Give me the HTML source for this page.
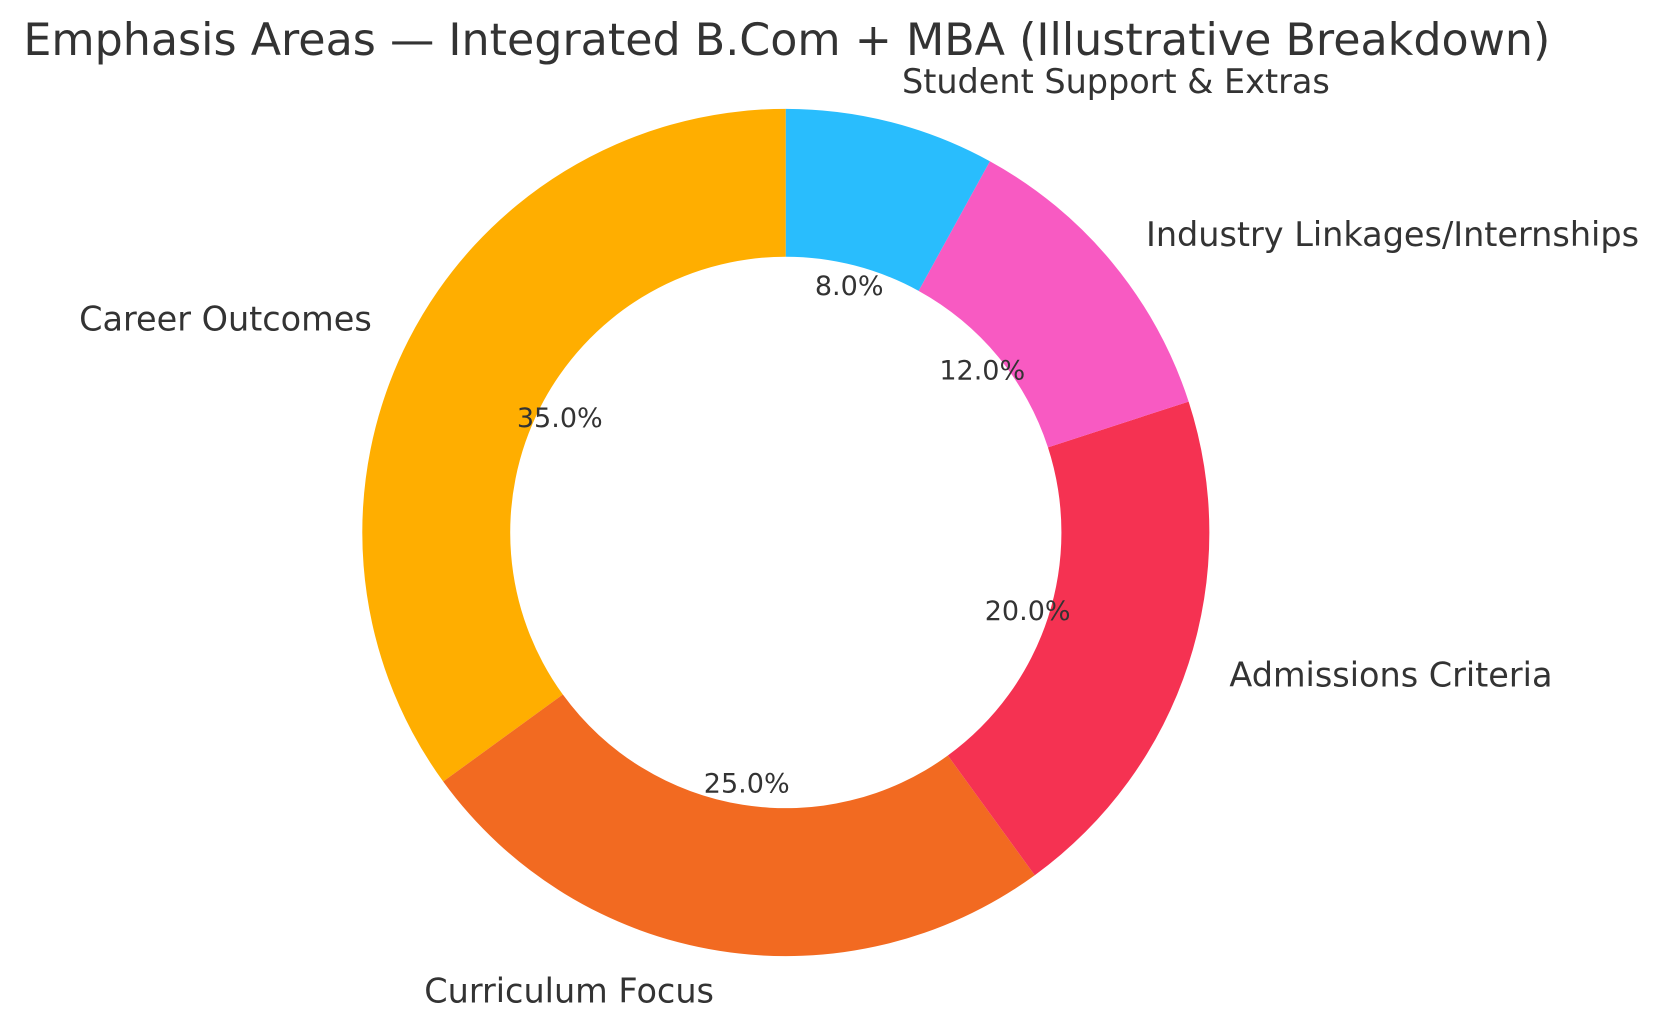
<!DOCTYPE html>
<html><head><meta charset="utf-8"><style>
html,body{margin:0;padding:0;background:#fff;}
svg text{font-family:"DejaVu Sans","Liberation Sans",sans-serif;fill:#333;}
</style></head><body>
<svg width="1654" height="1028" viewBox="0 0 1566 973" preserveAspectRatio="none" xmlns="http://www.w3.org/2000/svg" style="display:block">
<rect width="1566" height="973" fill="#fff"/>
<text x="745" y="52" font-size="42" text-anchor="middle">Emphasis Areas — Integrated B.Com + MBA (Illustrative Breakdown)</text>
<path d="M744,103 A401,401 0 0 0 419.6,739.7 L532.9,657.4 A261,261 0 0 1 744,243 Z" fill="#FFAE00"/>
<path d="M419.6,739.7 A401,401 0 0 0 979.7,828.4 L897.4,715.1 A261,261 0 0 1 532.9,657.4 Z" fill="#F26A21"/>
<path d="M979.7,828.4 A401,401 0 0 0 1125.4,380.1 L992.2,423.4 A261,261 0 0 1 897.4,715.1 Z" fill="#F53252"/>
<path d="M1125.4,380.1 A401,401 0 0 0 937.2,152.6 L869.7,275.3 A261,261 0 0 1 992.2,423.4 Z" fill="#F85AC2"/>
<path d="M937.2,152.6 A401,401 0 0 0 744,103 L744,243 A261,261 0 0 1 869.7,275.3 Z" fill="#29BDFD"/>
<g font-size="31.7">
<text x="352" y="313" text-anchor="end">Career Outcomes</text>
<text x="676" y="949" text-anchor="end">Curriculum Focus</text>
<text x="1164" y="650">Admissions Criteria</text>
<text x="1085" y="233">Industry Linkages/Internships</text>
<text x="854" y="88">Student Support &amp; Extras</text>
</g>
<g font-size="25.6" text-anchor="middle">
<text x="804" y="279">8.0%</text>
<text x="930" y="359">12.0%</text>
<text x="530" y="404">35.0%</text>
<text x="973" y="587">20.0%</text>
<text x="707" y="750">25.0%</text>
</g>
</svg>
</body></html>
